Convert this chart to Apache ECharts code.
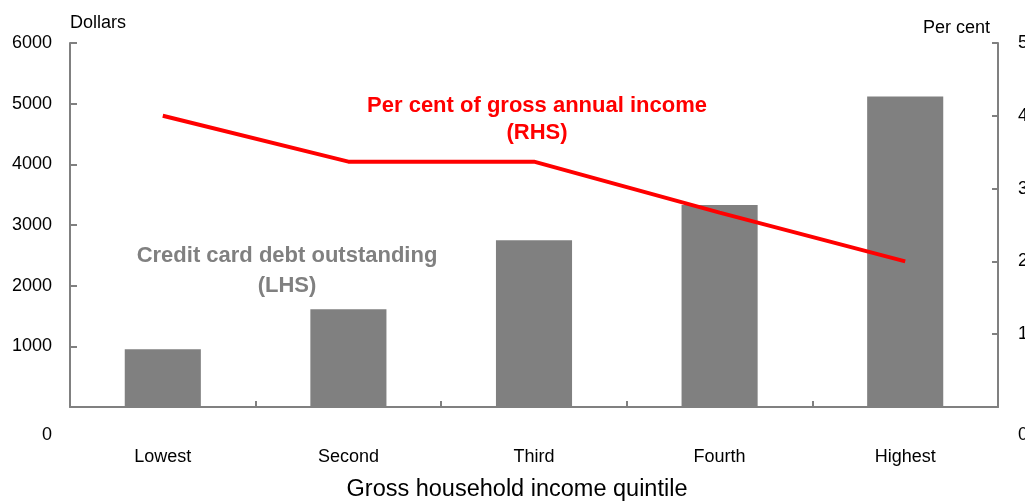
<!DOCTYPE html>
<html>
<head>
<meta charset="utf-8">
<script src="https://cdn.jsdelivr.net/npm/echarts@6/dist/echarts.min.js"></script>
<style>
  html, body { margin: 0; padding: 0; background: #fff; }
  #chart { width: 1025px; height: 501px; }
</style>
</head>
<body>
<div id="chart"></div>
<script>
// Income quintiles
const categories = ['Lowest', 'Second', 'Third', 'Fourth', 'Highest'];
// Credit card debt outstanding, dollars (LHS)
const debtDollars = [950, 1610, 2750, 3330, 5120];
// Credit card debt as per cent of gross annual income (RHS)
const debtPctIncome = [4.0, 3.37, 3.37, 2.67, 2.0];
// Axis ranges
const leftAxis = { min: 0, max: 6000, interval: 1000 };
const rightAxis = { min: 0, max: 5, interval: 1 };

const FONT = '"Liberation Sans", Arial, sans-serif';
const AXIS_GREY = '#808080';

// Zero labels sit lower than the baseline on both value axes
function zeroLow(v) { return v === 0 ? '{z|0}' : String(v); }
const zeroRich = { z: { fontSize: 18, fontFamily: FONT, color: '#000', padding: [56, 0, 0, 0] } };

const chart = echarts.init(document.getElementById('chart'), null, { renderer: 'canvas' });
chart.setOption({
  animation: false,
  backgroundColor: '#fff',
  grid: { left: 70, right: 27, top: 43, bottom: 94, containLabel: false, outerBoundsMode: 'none' },
  xAxis: {
    type: 'category',
    data: categories,
    name: 'Gross household income quintile',
    nameLocation: 'middle',
    nameGap: 71,
    nameTextStyle: { fontSize: 23.5, fontFamily: FONT, color: '#000', padding: [0, 34, 0, 0] },
    axisLine: { show: true, lineStyle: { color: AXIS_GREY, width: 2 } },
    axisTick: { show: true, inside: true, length: 6, lineStyle: { color: AXIS_GREY, width: 2 } },
    axisLabel: { fontSize: 18, fontFamily: FONT, color: '#000', margin: 41 }
  },
  yAxis: [
    {
      type: 'value',
      min: leftAxis.min, max: leftAxis.max, interval: leftAxis.interval,
      name: 'Dollars',
      nameLocation: 'end',
      nameGap: 11,
      nameTextStyle: { fontSize: 18, fontFamily: FONT, color: '#000', align: 'left' },
      axisLine: { show: true, lineStyle: { color: AXIS_GREY, width: 2 } },
      axisTick: { show: true, inside: true, length: 7, lineStyle: { color: AXIS_GREY, width: 2 } },
      axisLabel: { fontSize: 18, fontFamily: FONT, color: '#000', margin: 18, formatter: zeroLow, rich: zeroRich },
      splitLine: { show: false }
    },
    {
      type: 'value',
      position: 'right',
      min: rightAxis.min, max: rightAxis.max, interval: rightAxis.interval,
      name: 'Per cent',
      nameLocation: 'end',
      nameGap: 6,
      nameTextStyle: { fontSize: 18, fontFamily: FONT, color: '#000', align: 'right', padding: [0, 8, 0, 0] },
      axisLine: { show: true, lineStyle: { color: AXIS_GREY, width: 2 } },
      axisTick: { show: true, inside: true, length: 6, lineStyle: { color: AXIS_GREY, width: 2 } },
      axisLabel: { fontSize: 18, fontFamily: FONT, color: '#000', margin: 20, formatter: zeroLow, rich: zeroRich },
      splitLine: { show: false }
    }
  ],
  series: [
    {
      name: 'Credit card debt outstanding (LHS)',
      type: 'bar',
      yAxisIndex: 0,
      data: debtDollars,
      barWidth: '41%',
      itemStyle: { color: '#808080' }
    },
    {
      name: 'Per cent of gross annual income (RHS)',
      type: 'line',
      yAxisIndex: 1,
      data: debtPctIncome,
      symbol: 'none',
      lineStyle: { color: '#ff0000', width: 4 },
      z: 5
    }
  ],
  graphic: [
    {
      type: 'text',
      style: {
        text: 'Per cent of gross annual income\n(RHS)',
        font: 'bold 22px ' + FONT, fill: '#ff0000',
        textAlign: 'center', textVerticalAlign: 'middle', lineHeight: 27
      },
      x: 537, y: 119
    },
    {
      type: 'text',
      style: {
        text: 'Credit card debt outstanding\n(LHS)',
        font: 'bold 22px ' + FONT, fill: '#808080',
        textAlign: 'center', textVerticalAlign: 'middle', lineHeight: 30
      },
      x: 287, y: 271
    }
  ]
});
</script>
</body>
</html>
